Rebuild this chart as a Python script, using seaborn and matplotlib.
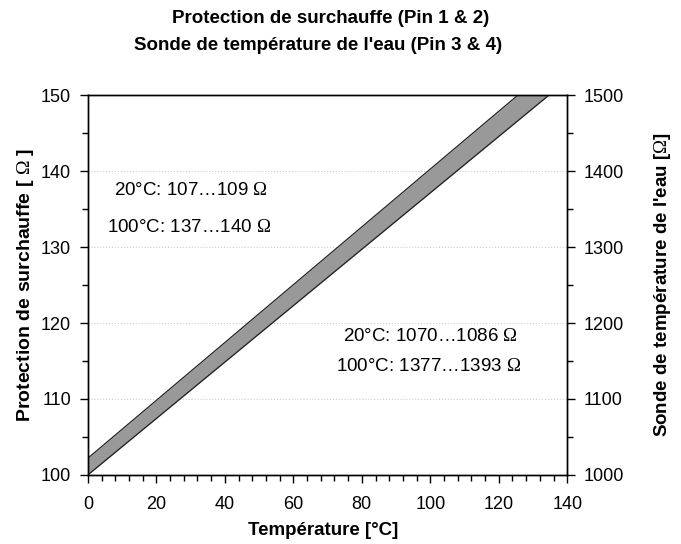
import matplotlib
matplotlib.use("Agg")
import matplotlib.pyplot as plt
import seaborn as sns
import pandas as pd
from matplotlib.ticker import MultipleLocator

# Data (band endpoints, extrapolated to the x-limit)
temperature = [0, 140]
lower_ohm = [100.0, 152.0]
upper_ohm = [102.2, 155.5]

label_pt1000 = ["20°C: 107…109", "100°C: 137…140"]
label_ntc = ["20°C: 1070…1086", "100°C: 1377…1393"]

df = pd.DataFrame({"T": temperature, "low": lower_ohm, "high": upper_ohm})

sns.set_theme(style="ticks")
plt.rcParams["font.family"] = ["Liberation Sans", "DejaVu Sans"]
plt.rcParams["mathtext.fontset"] = "custom"
plt.rcParams["mathtext.rm"] = "Liberation Serif"
for k in ["text.color", "axes.labelcolor", "xtick.color", "ytick.color"]:
    plt.rcParams[k] = "black"

fig = plt.figure(figsize=(6.81, 5.44), dpi=100)
ax = fig.add_axes([0.129, 0.127, 0.704, 0.698])

ax.fill_between(df["T"], df["low"], df["high"], color="#999999", linewidth=0, zorder=2)
sns.lineplot(data=df, x="T", y="low", ax=ax, color="#222222", linewidth=0.9, zorder=3)
sns.lineplot(data=df, x="T", y="high", ax=ax, color="#222222", linewidth=0.9, zorder=3)

ax.set_xlim(0, 140)
ax.set_ylim(100, 150)
ax.xaxis.set_major_locator(MultipleLocator(20))
ax.xaxis.set_minor_locator(MultipleLocator(4))
ax.yaxis.set_major_locator(MultipleLocator(10))
ax.yaxis.set_minor_locator(MultipleLocator(5))
ax.tick_params(which="major", length=6, width=1, labelsize=13, direction="out", pad=6)
ax.tick_params(which="minor", length=4, width=1, direction="out")
ax.tick_params(axis="x", which="major", pad=9)
ax.grid(axis="y", which="major", linestyle=":", color="#cccccc", linewidth=0.8)
for s in ax.spines.values():
    s.set_color("black")
    s.set_linewidth(1)

ax.set_xlabel("Température [°C]", fontsize=13.5, fontweight="bold")
ax.xaxis.set_label_coords(0.49, -0.125)
ax.set_ylabel(r"Protection de surchauffe [ $\mathrm{\Omega}$ ]", fontsize=14, fontweight="bold", labelpad=3.5)

ax2 = ax.twinx()
ax2.set_ylim(1000, 1500)
ax2.yaxis.set_major_locator(MultipleLocator(100))
ax2.yaxis.set_minor_locator(MultipleLocator(50))
ax2.tick_params(which="major", length=6, width=1, labelsize=13, direction="out", pad=6)
ax2.tick_params(which="minor", length=4, width=1, direction="out")
ax2.set_ylabel(r"Sonde de température de l'eau [$\mathrm{\Omega}$]", fontsize=13.5, fontweight="bold", labelpad=20)
for s in ax2.spines.values():
    s.set_color("black")
    s.set_linewidth(1)

ax.text(30, 137.5, label_pt1000[0] + r" $\mathrm{\Omega}$", ha="center", va="center", fontsize=13.5)
ax.text(29.5, 132.6, label_pt1000[1] + r" $\mathrm{\Omega}$", ha="center", va="center", fontsize=13.5)
ax.text(100, 118.2, label_ntc[0] + r" $\mathrm{\Omega}$", ha="center", va="center", fontsize=13.5)
ax.text(99.5, 114.3, label_ntc[1] + r" $\mathrm{\Omega}$", ha="center", va="center", fontsize=13.5)

fig.text(0.485, 0.966, "Protection de surchauffe (Pin 1 & 2)", ha="center", va="center",
         fontsize=13.5, fontweight="bold")
fig.text(0.467, 0.916, "Sonde de température de l'eau (Pin 3 & 4)", ha="center", va="center",
         fontsize=13.5, fontweight="bold")

fig.savefig("out.png", dpi=100)
